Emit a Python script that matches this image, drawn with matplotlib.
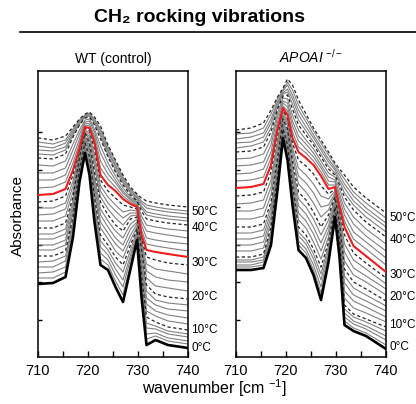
import matplotlib
matplotlib.use('Agg')
import matplotlib.pyplot as plt
from matplotlib.lines import Line2D
from matplotlib.ticker import MultipleLocator

plt.rcParams['font.family'] = ['Liberation Sans', 'DejaVu Sans']
plt.rcParams['mathtext.fontset'] = 'custom'
plt.rcParams['mathtext.rm'] = 'Liberation Sans'
plt.rcParams['mathtext.it'] = 'Liberation Sans:italic'
plt.rcParams['mathtext.bf'] = 'Liberation Sans:bold'

# ---------------- data ----------------
wavenumber = [710, 713, 715.5, 717, 718.3, 719.4, 720.3, 721.3, 722.5, 724,
              725.5, 727, 728.5, 729.8, 730.7, 731.7, 733.5, 736, 740]
temperatures = list(range(0, 52, 2))
dashed_temps = [10, 20, 28, 40, 50]
red_temp = 30
label_temps = [0, 10, 20, 30, 40, 50]

# WT (control), one row per temperature (0..50 °C, step 2), arbitrary absorbance units
wt_absorbance = [
    [73, 74, 80, 120, 175, 204, 182, 135, 92, 87, 70, 55, 88, 117, 60, 12, 17, 12, 9],
    [79, 79, 85, 124, 178, 206, 186, 140, 98, 92, 76, 62, 93, 119, 64, 18, 21, 16, 13],
    [84, 85, 90, 128, 180, 208, 189, 145, 104, 97, 82, 70, 98, 121, 69, 23, 24, 19, 16],
    [90, 90, 96, 132, 183, 210, 193, 150, 110, 102, 88, 77, 102, 124, 73, 29, 28, 23, 20],
    [95, 96, 101, 136, 185, 212, 196, 155, 116, 107, 94, 85, 107, 126, 78, 34, 31, 26, 23],
    [101, 101, 106, 140, 188, 214, 200, 160, 122, 112, 100, 92, 112, 128, 82, 40, 35, 30, 27],
    [107, 107, 112, 144, 190, 216, 203, 165, 129, 118, 106, 99, 117, 130, 87, 46, 41, 36, 33],
    [112, 112, 117, 148, 193, 218, 206, 170, 135, 124, 113, 106, 122, 133, 92, 53, 46, 42, 39],
    [118, 118, 123, 152, 195, 220, 208, 175, 142, 130, 119, 112, 128, 135, 98, 59, 52, 48, 46],
    [123, 123, 128, 156, 198, 222, 211, 180, 148, 136, 126, 119, 133, 138, 103, 66, 57, 54, 52],
    [129, 129, 134, 160, 200, 224, 214, 185, 155, 142, 132, 126, 138, 140, 108, 72, 63, 60, 58],
    [136, 136, 141, 165, 202, 225, 217, 191, 160, 148, 139, 132, 141, 142, 111, 79, 71, 69, 66],
    [142, 143, 148, 171, 204, 226, 220, 197, 166, 154, 146, 139, 144, 144, 114, 86, 80, 77, 75],
    [149, 149, 154, 176, 205, 228, 223, 202, 171, 160, 152, 145, 147, 146, 116, 93, 88, 86, 83],
    [155, 156, 161, 182, 207, 229, 226, 208, 177, 166, 159, 152, 150, 148, 119, 100, 97, 94, 92],
    [162, 163, 168, 187, 209, 230, 229, 214, 182, 172, 166, 158, 153, 150, 122, 107, 105, 103, 100],
    [169, 170, 175, 194, 214, 232, 231, 218, 189, 178, 170, 161, 155, 151, 127, 113, 111, 109, 106],
    [177, 177, 182, 200, 218, 234, 233, 221, 196, 183, 174, 164, 157, 152, 132, 119, 117, 115, 113],
    [184, 184, 189, 207, 223, 235, 236, 225, 204, 189, 177, 166, 158, 154, 136, 126, 124, 122, 119],
    [192, 191, 196, 213, 227, 237, 238, 228, 211, 194, 181, 169, 160, 155, 141, 132, 130, 128, 126],
    [199, 198, 203, 220, 232, 239, 240, 232, 218, 200, 185, 172, 162, 156, 146, 138, 136, 134, 132],
    [203, 202, 207, 222, 233, 240, 241, 234, 221, 202, 187, 174, 164, 157, 149, 142, 140, 138, 136],
    [207, 206, 210, 224, 234, 241, 242, 235, 223, 205, 190, 176, 165, 159, 151, 145, 143, 141, 139],
    [211, 209, 214, 226, 236, 241, 243, 237, 226, 207, 192, 178, 167, 160, 154, 149, 147, 145, 143],
    [215, 213, 217, 228, 237, 242, 244, 238, 228, 210, 195, 180, 168, 162, 156, 152, 150, 148, 146],
    [219, 217, 221, 230, 238, 243, 245, 240, 231, 212, 197, 182, 170, 163, 159, 156, 154, 152, 150],
]

# APOAI -/-
apoai_absorbance = [
    [87, 87, 89, 112, 167, 219, 197, 152, 107, 99, 82, 57, 95, 140, 100, 32, 26, 21, 8],
    [90, 90, 92, 116, 170, 221, 200, 156, 112, 104, 87, 64, 99, 142, 104, 36, 29, 24, 12],
    [92, 92, 95, 119, 172, 223, 203, 160, 116, 108, 92, 70, 103, 144, 107, 40, 33, 28, 17],
    [95, 95, 97, 123, 175, 224, 206, 164, 121, 113, 98, 77, 107, 146, 111, 44, 36, 31, 21],
    [97, 97, 100, 126, 177, 226, 209, 168, 125, 117, 103, 83, 111, 148, 114, 48, 40, 35, 26],
    [100, 100, 103, 130, 180, 228, 212, 172, 130, 122, 108, 90, 115, 150, 118, 52, 43, 38, 30],
    [106, 106, 109, 135, 184, 230, 215, 177, 137, 129, 115, 98, 120, 152, 121, 59, 49, 44, 35],
    [112, 112, 115, 140, 187, 232, 218, 181, 144, 136, 123, 106, 126, 154, 124, 66, 56, 50, 40],
    [118, 118, 121, 145, 191, 234, 222, 186, 151, 143, 130, 114, 131, 156, 128, 74, 62, 56, 46],
    [124, 124, 127, 150, 194, 236, 225, 190, 158, 150, 138, 122, 137, 158, 131, 81, 69, 62, 51],
    [130, 130, 133, 155, 198, 238, 228, 195, 165, 157, 145, 130, 142, 160, 134, 88, 75, 68, 56],
    [138, 138, 141, 162, 204, 240, 231, 200, 173, 165, 154, 140, 147, 162, 137, 96, 82, 75, 62],
    [146, 146, 149, 170, 210, 242, 234, 205, 181, 174, 164, 150, 152, 164, 140, 105, 89, 81, 68],
    [153, 154, 157, 177, 215, 245, 236, 209, 189, 182, 173, 161, 158, 166, 144, 113, 97, 88, 73],
    [161, 162, 165, 185, 221, 247, 239, 214, 197, 191, 183, 171, 163, 168, 147, 122, 104, 94, 79],
    [169, 170, 173, 192, 227, 249, 242, 219, 205, 199, 192, 181, 168, 170, 150, 130, 111, 101, 85],
    [176, 177, 180, 199, 231, 251, 246, 225, 210, 204, 196, 185, 172, 172, 154, 136, 118, 108, 92],
    [183, 184, 188, 205, 235, 254, 250, 231, 216, 208, 200, 189, 176, 175, 159, 142, 125, 115, 99],
    [191, 192, 195, 212, 240, 256, 254, 236, 221, 213, 204, 192, 180, 177, 163, 148, 133, 121, 106],
    [198, 199, 203, 218, 244, 259, 258, 242, 227, 217, 208, 196, 184, 180, 168, 154, 140, 128, 113],
    [205, 206, 210, 225, 248, 261, 262, 248, 232, 222, 212, 200, 188, 182, 172, 160, 147, 135, 120],
    [209, 211, 215, 229, 250, 263, 265, 253, 237, 226, 215, 203, 191, 184, 175, 164, 152, 140, 125],
    [214, 215, 220, 234, 253, 264, 268, 258, 242, 230, 219, 207, 195, 187, 178, 169, 156, 145, 130],
    [218, 220, 224, 238, 255, 266, 272, 262, 247, 235, 222, 210, 198, 189, 182, 173, 161, 149, 134],
    [223, 224, 229, 243, 258, 267, 275, 267, 252, 239, 226, 214, 202, 192, 185, 178, 165, 154, 139],
    [227, 229, 234, 247, 260, 269, 278, 272, 257, 243, 229, 217, 205, 194, 188, 182, 170, 159, 144],
]

# ---------------- layout ----------------
W, H = 416, 404
fig = plt.figure(figsize=(W / 100, H / 100), dpi=100)

panel_lefts = [38, 236]
panel_w, panel_top, panel_bottom = 150, 71, 357
label_y_pos = {
    0: [9, 27, 60, 94, 129, 145],
    1: [10, 32, 60, 82, 117, 139],
}


def draw_panel(ax, table):
    for T, row in zip(temperatures, table):
        if T == 0:
            ax.plot(wavenumber, row, color='black', lw=1.9, zorder=5)
        elif T == red_temp:
            ax.plot(wavenumber, row, color='#ee1c1c', lw=1.5, zorder=4)
        elif T in dashed_temps:
            ax.plot(wavenumber, row, color='#222222', lw=0.9,
                    linestyle=(0, (2.6, 2.0)), zorder=3)
        else:
            ax.plot(wavenumber, row, color='#808080', lw=0.8, zorder=2)
    ax.set_xlim(710, 740)
    ax.set_ylim(0, panel_bottom - panel_top)
    ax.xaxis.set_major_locator(MultipleLocator(10))
    ax.xaxis.set_minor_locator(MultipleLocator(5))
    ax.set_yticks([37.5 * k for k in range(1, 7)])
    ax.tick_params(axis='x', which='both', direction='in', length=4, width=1,
                   labelsize=10.5, pad=5, top=False)
    ax.tick_params(axis='y', which='both', direction='in', length=3, width=1,
                   labelleft=False, right=False)
    for s in ax.spines.values():
        s.set_linewidth(1.1)


axes = []
for i, table in enumerate([wt_absorbance, apoai_absorbance]):
    ax = fig.add_axes([panel_lefts[i] / W, (H - panel_bottom) / H,
                       panel_w / W, (panel_bottom - panel_top) / H])
    draw_panel(ax, table)
    for T, yv in zip(label_temps, label_y_pos[i]):
        ax.annotate(f'{T}°C', xy=(740, yv), xytext=(2.5, 0), textcoords='offset points',
                    fontsize=8.5, va='center', ha='left', annotation_clip=False)
    axes.append(ax)

axes[0].set_title('WT (control)', fontsize=10, pad=6)
axes[1].set_title(r'$\mathit{APOAI}^{\ \mathit{-/-}}$', fontsize=10, pad=6)

fig.text(200 / W, 1 - 18 / H, 'CH₂ rocking vibrations', fontsize=14,
         fontweight='bold', ha='center', va='center')
fig.add_artist(Line2D([20 / W, 1.0], [1 - 32 / H, 1 - 32 / H], color='black', lw=1.2))
fig.text(18 / W, 1 - 215 / H, 'Absorbance', rotation=90, fontsize=11,
         ha='center', va='center')
fig.text(215 / W, 1 - 388 / H, r'wavenumber [cm $^{-1}$]', fontsize=11.5,
         ha='center', va='center')

fig.savefig('out.png', dpi=100)
